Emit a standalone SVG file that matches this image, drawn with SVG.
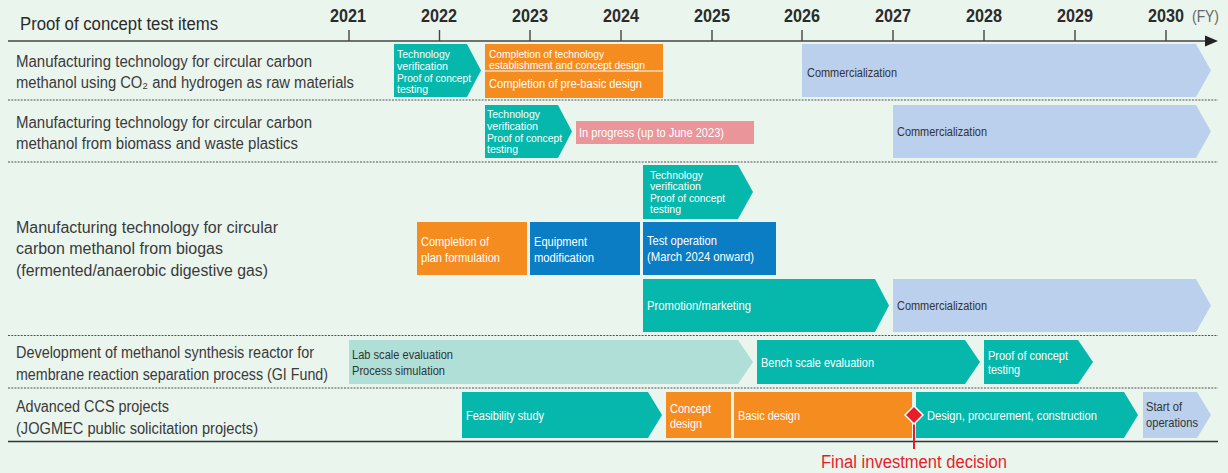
<svg xmlns="http://www.w3.org/2000/svg" width="1228" height="473" viewBox="0 0 1228 473">
<style>
text{font-family:"Liberation Sans",Arial,sans-serif;}
.yr{font-size:18px;font-weight:bold;fill:#2b2b2b;text-anchor:middle;}
.lbl{font-size:16px;fill:#3a3a3a;}
.w{font-size:13px;fill:#ffffff;}
.s{font-size:11px;fill:#ffffff;}
.d{font-size:12.5px;fill:#333333;}
.teal{fill:#05B8AB;}
.orange{fill:#F58C20;}
.blue{fill:#0A7DC5;}
.lblue{fill:#BAD0EC;}
.pink{fill:#E99599;}
.lteal{fill:#B0DFD8;}
.sep{stroke:#555;stroke-width:1.2;stroke-dasharray:2 1.2;fill:none;}
.tick{stroke:#444;stroke-width:1.4;}
</style>
<rect x="0" y="0" width="1228" height="473" fill="#EAF5EE"/>

<g id="axis">
<text x="20" y="30" font-size="17.5" fill="#2b2b2b" textLength="198" lengthAdjust="spacingAndGlyphs">Proof of concept test items</text>
<line x1="8" y1="41" x2="1208" y2="41" stroke="#444" stroke-width="1.6"/>
<polygon points="1205,35.5 1218,41 1205,46.5" fill="#222"/>
<g class="tick">
<line x1="349" y1="30" x2="349" y2="41"/><line x1="439.5" y1="30" x2="439.5" y2="41"/><line x1="530" y1="30" x2="530" y2="41"/><line x1="621" y1="30" x2="621" y2="41"/><line x1="712" y1="30" x2="712" y2="41"/><line x1="802" y1="30" x2="802" y2="41"/><line x1="893" y1="30" x2="893" y2="41"/><line x1="984" y1="30" x2="984" y2="41"/><line x1="1075" y1="30" x2="1075" y2="41"/><line x1="1166" y1="30" x2="1166" y2="41"/>
</g>
<text class="yr" x="348" y="21.5" textLength="36" lengthAdjust="spacingAndGlyphs">2021</text>
<text class="yr" x="439" y="21.5" textLength="36" lengthAdjust="spacingAndGlyphs">2022</text>
<text class="yr" x="530" y="21.5" textLength="36" lengthAdjust="spacingAndGlyphs">2023</text>
<text class="yr" x="621" y="21.5" textLength="36" lengthAdjust="spacingAndGlyphs">2024</text>
<text class="yr" x="712" y="21.5" textLength="36" lengthAdjust="spacingAndGlyphs">2025</text>
<text class="yr" x="802" y="21.5" textLength="36" lengthAdjust="spacingAndGlyphs">2026</text>
<text class="yr" x="893" y="21.5" textLength="36" lengthAdjust="spacingAndGlyphs">2027</text>
<text class="yr" x="984" y="21.5" textLength="36" lengthAdjust="spacingAndGlyphs">2028</text>
<text class="yr" x="1075" y="21.5" textLength="36" lengthAdjust="spacingAndGlyphs">2029</text>
<text class="yr" x="1166" y="21.5" textLength="36" lengthAdjust="spacingAndGlyphs">2030</text>
<text x="1192" y="21.5" font-size="17" fill="#666" textLength="27" lengthAdjust="spacingAndGlyphs">(FY)</text>
</g>

<g id="separators">
<line class="sep" x1="8" y1="100" x2="1218" y2="100"/>
<line class="sep" x1="8" y1="162" x2="1218" y2="162"/>
<line class="sep" x1="8" y1="335.5" x2="1218" y2="335.5"/>
<line class="sep" x1="8" y1="388" x2="1218" y2="388"/>
<line x1="8" y1="441.5" x2="1218" y2="441.5" stroke="#333" stroke-width="1.3"/>
</g>

<g id="row-labels">
<text class="lbl" x="16" y="66.5" textLength="296" lengthAdjust="spacingAndGlyphs">Manufacturing technology for circular carbon</text>
<text class="lbl" x="16" y="87.5" textLength="338" lengthAdjust="spacingAndGlyphs">methanol using CO₂ and hydrogen as raw materials</text>
<text class="lbl" x="16" y="128" textLength="296" lengthAdjust="spacingAndGlyphs">Manufacturing technology for circular carbon</text>
<text class="lbl" x="16" y="149" textLength="282" lengthAdjust="spacingAndGlyphs">methanol from biomass and waste plastics</text>
<text class="lbl" x="16" y="233" textLength="262" lengthAdjust="spacingAndGlyphs">Manufacturing technology for circular</text>
<text class="lbl" x="16" y="254" textLength="207" lengthAdjust="spacingAndGlyphs">carbon methanol from biogas</text>
<text class="lbl" x="16" y="275.5" textLength="252" lengthAdjust="spacingAndGlyphs">(fermented/anaerobic digestive gas)</text>
<text class="lbl" x="16" y="357.5" textLength="298" lengthAdjust="spacingAndGlyphs">Development of methanol synthesis reactor for</text>
<text class="lbl" x="16" y="379.5" font-size="15" textLength="312" lengthAdjust="spacingAndGlyphs">membrane reaction separation process (GI Fund)</text>
<text class="lbl" x="16" y="411.5" textLength="153" lengthAdjust="spacingAndGlyphs">Advanced CCS projects</text>
<text class="lbl" x="16" y="433.5" textLength="242" lengthAdjust="spacingAndGlyphs">(JOGMEC public solicitation projects)</text>
</g>

<!-- Row 1 -->
<g id="r1-tech">
<polygon class="teal" points="394,44 467,44 481,70.5 467,97 394,97"/>
<text class="s" x="397" y="57.5" textLength="53" lengthAdjust="spacingAndGlyphs">Technology</text>
<text class="s" x="397" y="69.5" textLength="51" lengthAdjust="spacingAndGlyphs">verification</text>
<text class="s" x="397" y="81.5" textLength="74" lengthAdjust="spacingAndGlyphs">Proof of concept</text>
<text class="s" x="397" y="93" textLength="31" lengthAdjust="spacingAndGlyphs">testing</text>
</g>
<g id="r1-completion">
<rect class="orange" x="485" y="44" width="178" height="54"/>
<line x1="485" y1="71" x2="663" y2="71" stroke="#F7D9B5" stroke-width="1.5"/>
<text class="s" x="489" y="57.5" textLength="115" lengthAdjust="spacingAndGlyphs">Completion of technology</text>
<text class="s" x="489" y="68.5" textLength="156" lengthAdjust="spacingAndGlyphs">establishment and concept design</text>
<text class="w" x="489" y="87.5" textLength="153" lengthAdjust="spacingAndGlyphs">Completion of pre-basic design</text>
</g>
<g id="r1-commercial">
<polygon class="lblue" points="802,44 1196,44 1211,70.5 1196,97 802,97"/>
<text class="d" x="807" y="76.5" textLength="90" lengthAdjust="spacingAndGlyphs">Commercialization</text>
</g>

<!-- Row 2 -->
<g id="r2-tech">
<polygon class="teal" points="485,105 558,105 572,131.5 558,158 485,158"/>
<text class="s" x="487" y="117.5" textLength="53" lengthAdjust="spacingAndGlyphs">Technology</text>
<text class="s" x="487" y="129.5" textLength="51" lengthAdjust="spacingAndGlyphs">verification</text>
<text class="s" x="487" y="141.5" textLength="75" lengthAdjust="spacingAndGlyphs">Proof of concept</text>
<text class="s" x="487" y="153" textLength="31" lengthAdjust="spacingAndGlyphs">testing</text>
</g>
<g id="r2-progress">
<rect class="pink" x="576" y="121" width="178" height="23"/>
<text class="w" x="579" y="136.5" textLength="145" lengthAdjust="spacingAndGlyphs">In progress (up to June 2023)</text>
</g>
<g id="r2-commercial">
<polygon class="lblue" points="893,105 1196,105 1211,131.5 1196,158 893,158"/>
<text class="d" x="897" y="136" textLength="90" lengthAdjust="spacingAndGlyphs">Commercialization</text>
</g>

<!-- Row 3 -->
<g id="r3-tech">
<polygon class="teal" points="643,165 738,165 753,192 738,219 643,219"/>
<text class="s" x="650" y="178.5" textLength="53" lengthAdjust="spacingAndGlyphs">Technology</text>
<text class="s" x="650" y="190" textLength="51" lengthAdjust="spacingAndGlyphs">verification</text>
<text class="s" x="650" y="201.5" textLength="75" lengthAdjust="spacingAndGlyphs">Proof of concept</text>
<text class="s" x="650" y="213" textLength="31" lengthAdjust="spacingAndGlyphs">testing</text>
</g>
<g id="r3-plan">
<rect class="orange" x="417" y="222" width="110" height="53"/>
<text class="w" x="421" y="246" textLength="68" lengthAdjust="spacingAndGlyphs">Completion of</text>
<text class="w" x="421" y="262" textLength="79" lengthAdjust="spacingAndGlyphs">plan formulation</text>
</g>
<g id="r3-equipment">
<rect class="blue" x="530" y="222" width="110" height="53"/>
<text class="w" x="534" y="246" textLength="53" lengthAdjust="spacingAndGlyphs">Equipment</text>
<text class="w" x="534" y="262" textLength="60" lengthAdjust="spacingAndGlyphs">modification</text>
</g>
<g id="r3-test">
<rect class="blue" x="643" y="222" width="133" height="53"/>
<text class="w" x="647" y="244.5" textLength="70" lengthAdjust="spacingAndGlyphs">Test operation</text>
<text class="w" x="647" y="260.5" textLength="107" lengthAdjust="spacingAndGlyphs">(March 2024 onward)</text>
</g>
<g id="r3-promotion">
<polygon class="teal" points="643,279 875,279 889,305.5 875,332 643,332"/>
<text class="w" x="647" y="310" textLength="104" lengthAdjust="spacingAndGlyphs">Promotion/marketing</text>
</g>
<g id="r3-commercial">
<polygon class="lblue" points="893,279 1196,279 1211,305.5 1196,332 893,332"/>
<text class="d" x="897" y="310" textLength="90" lengthAdjust="spacingAndGlyphs">Commercialization</text>
</g>

<!-- Row 4 -->
<g id="r4-lab">
<polygon class="lteal" points="349,340 738,340 753,362 738,384 349,384"/>
<text class="d" x="352" y="358.5" font-size="12" textLength="101" lengthAdjust="spacingAndGlyphs">Lab scale evaluation</text>
<text class="d" x="352" y="374.5" font-size="12" textLength="93" lengthAdjust="spacingAndGlyphs">Process simulation</text>
</g>
<g id="r4-bench">
<polygon class="teal" points="757,340 965,340 980,362 965,384 757,384"/>
<text class="w" x="761" y="366.5" textLength="113" lengthAdjust="spacingAndGlyphs">Bench scale evaluation</text>
</g>
<g id="r4-poc">
<polygon class="teal" points="984,340 1078,340 1093,362 1078,384 984,384"/>
<text class="w" x="988" y="360" font-size="12" textLength="80" lengthAdjust="spacingAndGlyphs">Proof of concept</text>
<text class="w" x="988" y="373.5" font-size="12" textLength="32" lengthAdjust="spacingAndGlyphs">testing</text>
</g>

<!-- Row 5 -->
<g id="r5-feasibility">
<polygon class="teal" points="462,392 648,392 662,415 648,438 462,438"/>
<text class="w" x="466" y="420" textLength="78" lengthAdjust="spacingAndGlyphs">Feasibility study</text>
</g>
<g id="r5-concept">
<rect class="orange" x="666" y="392" width="65" height="46"/>
<text class="w" x="670" y="412.5" textLength="41" lengthAdjust="spacingAndGlyphs">Concept</text>
<text class="w" x="670" y="428" textLength="32" lengthAdjust="spacingAndGlyphs">design</text>
</g>
<g id="r5-basic">
<rect class="orange" x="734" y="392" width="178" height="46"/>
<text class="w" x="738" y="420" textLength="62" lengthAdjust="spacingAndGlyphs">Basic design</text>
</g>
<g id="r5-dpc">
<polygon class="teal" points="916,392 1124,392 1138,415 1124,438 916,438"/>
<text class="w" x="927" y="420" textLength="170" lengthAdjust="spacingAndGlyphs">Design, procurement, construction</text>
</g>
<g id="r5-start">
<polygon class="lblue" points="1143,392 1197,392 1211,415 1197,438 1143,438"/>
<text class="d" x="1146" y="411" textLength="36" lengthAdjust="spacingAndGlyphs">Start of</text>
<text class="d" x="1146" y="427" textLength="52" lengthAdjust="spacingAndGlyphs">operations</text>
</g>

<g id="connectors">
<line x1="914" y1="415" x2="914" y2="449" stroke="#E61E2A" stroke-width="2"/>
</g>
<g id="fid">
<polygon points="914,406 923,415 914,424 905,415" fill="#E61E2A" stroke="#ffffff" stroke-width="1.5"/>
<text x="821" y="467.5" font-size="18" fill="#E61E2A" textLength="186" lengthAdjust="spacingAndGlyphs">Final investment decision</text>
</g>
</svg>
